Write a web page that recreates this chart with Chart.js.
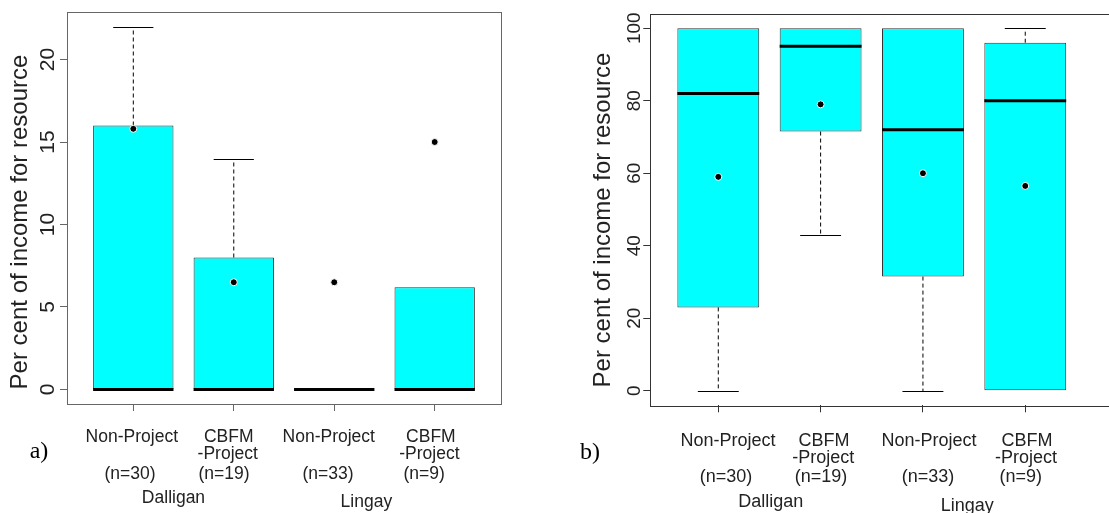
<!DOCTYPE html>
<html>
<head>
<meta charset="utf-8">
<script src="https://cdn.jsdelivr.net/npm/chart.js@4.4.1/dist/chart.umd.min.js"></script>
<style>
  html, body { margin: 0; padding: 0; background: #fff; overflow: hidden; }
  .panel { position: absolute; top: 0; height: 513px; }
  #panelA { left: 0; width: 555px; }
  #panelB { left: 555px; width: 565px; }
</style>
</head>
<body>
<div class="panel" id="panelA"><canvas id="chartA"></canvas></div>
<div class="panel" id="panelB"><canvas id="chartB"></canvas></div>
<script>
// Group labels shared by both panels
const groups = ["Non-Project", "CBFM\n-Project", "Non-Project", "CBFM\n-Project"];
const sampleSizes = ["(n=30)", "(n=19)", "(n=33)", "(n=9)"];
const sites = ["Dalligan", "Lingay"];
const yTitle = "Per cent of income for resource";

// Panel a) box statistics
const aLower = [0, 0, 0, 0];
const aQ1 = [0, 0, 0, 0];
const aMedian = [0, 0, 0, 0];
const aQ3 = [16, 8, 0, 6.2];
const aUpper = [22, 14, 0, 6.2];
const aMean = [15.8, 6.5, 6.5, 15];
const aTicks = [0, 5, 10, 15, 20];

// Panel b) box statistics
const bLower = [0, 43, 0, 0];
const bQ1 = [23, 71.5, 31.5, 0];
const bMedian = [82, 95, 72, 80];
const bQ3 = [100, 100, 100, 96];
const bUpper = [100, 100, 100, 100];
const bMean = [59, 79, 60, 56.5];
const bTicks = [0, 20, 40, 60, 80, 100];

const SANS = '"Liberation Sans", Arial, sans-serif';
const SERIF = '"Liberation Serif", "DejaVu Serif", serif';

// draws whiskers + medians right after the boxes, then frame and all text
function boxPlugin(p) {
  return {
    id: "boxParts",
    afterDatasetDraw(chart, args) {
      if (args.meta.type !== "bar") return;
      const y = chart.scales.y;
      const ctx = chart.ctx;
      ctx.save();
      args.meta.data.forEach((bar, i) => {
        const half = bar.width / 2;
        ctx.strokeStyle = "#000";
        ctx.lineWidth = 1;
        [[p.q3[i], p.upper[i]], [p.q1[i], p.lower[i]]].forEach(([from, to]) => {
          if (from === to) return;
          const y0 = y.getPixelForValue(from);
          const y1 = Math.round(y.getPixelForValue(to)) + 0.5;
          ctx.setLineDash([4, 3]);
          ctx.beginPath();
          ctx.moveTo(bar.x, y0);
          ctx.lineTo(bar.x, y1);
          ctx.stroke();
          ctx.setLineDash([]);
          ctx.beginPath();
          ctx.moveTo(bar.x - half / 2, y1);
          ctx.lineTo(bar.x + half / 2, y1);
          ctx.stroke();
        });
        const ym = y.getPixelForValue(p.median[i]);
        ctx.lineWidth = 3;
        ctx.beginPath();
        ctx.moveTo(bar.x - half, ym);
        ctx.lineTo(bar.x + half, ym);
        ctx.stroke();
      });
      ctx.restore();
    },
    afterDraw(chart) {
      const ctx = chart.ctx;
      const area = chart.chartArea;
      const x = chart.scales.x;
      const y = chart.scales.y;
      ctx.save();
      // plot frame
      ctx.strokeStyle = p.frameColor;
      ctx.lineWidth = 1;
      ctx.strokeRect(Math.round(area.left) + 0.5, Math.round(area.top) + 0.5,
        Math.round(area.right - area.left), Math.round(area.bottom - area.top));

      ctx.fillStyle = "#222";
      // rotated y tick labels
      ctx.font = p.tickSize + "px " + SANS;
      ctx.textAlign = "center";
      ctx.textBaseline = "alphabetic";
      p.ticks.forEach(v => {
        ctx.save();
        ctx.translate(p.tickX, y.getPixelForValue(v));
        ctx.rotate(-Math.PI / 2);
        ctx.fillText(String(v), 0, 0);
        ctx.restore();
      });
      // y title
      ctx.font = p.titleSize + "px " + SANS;
      ctx.save();
      ctx.translate(p.titleX, p.titleY);
      ctx.rotate(-Math.PI / 2);
      ctx.fillText(yTitle, 0, 0);
      ctx.restore();

      // x category labels
      ctx.font = p.labelSize + "px " + SANS;
      groups.forEach((g, i) => {
        const cx = x.getPixelForValue(i + 1);
        const nudge = p.nudge[i];
        const lines = g.split("\n");
        ctx.fillText(lines[0], cx + nudge[0], p.rows[0]);
        if (lines[1]) ctx.fillText(lines[1], cx + nudge[1], p.rows[1]);
        ctx.fillText(sampleSizes[i], cx + nudge[2], p.rows[2]);
      });
      sites.forEach((s, i) => {
        ctx.fillText(s, x.getPixelForValue(p.siteAt[i]), p.siteRows[i]);
      });

      // panel letter
      ctx.font = "24px " + SERIF;
      ctx.fillStyle = "#000";
      ctx.fillText(p.letter, p.letterX, p.letterY);
      ctx.restore();
    }
  };
}

function makePanel(canvasId, p) {
  const boxes = groups.map((g, i) => ({ x: i + 1, y: [p.q1[i], p.q3[i]] }));
  const means = groups.map((g, i) => ({ x: i + 1, y: p.mean[i] }));
  return new Chart(document.getElementById(canvasId), {
    type: "bar",
    data: {
      datasets: [
        {
          data: boxes,
          backgroundColor: "#00FFFF",
          borderColor: "#333",
          borderWidth: 1,
          borderSkipped: false,
          categoryPercentage: 0.8,
          barPercentage: 1,
          order: 1
        },
        {
          type: "scatter",
          data: means,
          pointRadius: 3.5,
          pointBackgroundColor: "#000",
          pointBorderColor: "#fff",
          pointBorderWidth: 1,
          order: 0
        }
      ]
    },
    options: {
      responsive: true,
      maintainAspectRatio: false,
      animation: false,
      layout: { padding: p.padding },
      plugins: { legend: { display: false }, tooltip: { enabled: false } },
      scales: {
        x: {
          type: "linear",
          min: p.xMin,
          max: p.xMax,
          offset: false,
          border: { display: false },
          grid: { offset: false, drawOnChartArea: false, tickLength: 7, tickColor: p.frameColor },
          ticks: { display: false },
          afterBuildTicks: s => { s.ticks = groups.map((g, i) => ({ value: i + 1 })); },
          afterFit: s => { s.height = p.xHeight; }
        },
        y: {
          min: p.yMin,
          max: p.yMax,
          border: { display: false },
          grid: { drawOnChartArea: false, tickLength: 7, tickColor: p.frameColor },
          ticks: { display: false },
          afterBuildTicks: s => { s.ticks = p.ticks.map(v => ({ value: v })); },
          afterFit: s => { s.width = p.yWidth; }
        }
      }
    },
    plugins: [boxPlugin(p)]
  });
}

makePanel("chartA", {
  q1: aQ1, q3: aQ3, median: aMedian, lower: aLower, upper: aUpper, mean: aMean, ticks: aTicks,
  xMin: 0.34, xMax: 4.66, yMin: -0.88, yMax: 22.88,
  padding: { left: 0, top: 12, right: 54, bottom: 0 }, yWidth: 67, xHeight: 109,
  frameColor: "#666", tickSize: 21, tickX: 54, titleSize: 24, titleX: 27, titleY: 222,
  labelSize: 17.5, rows: [442, 459, 479], siteRows: [503, 506.5], siteAt: [1.4, 3.32],
  nudge: [[-1.5, 0, -3.3], [-5, -6, -9.7], [-5.5, 0, -6.3], [-3.8, -5.3, -10.6]],
  letter: "a)", letterX: 39, letterY: 458
});

makePanel("chartB", {
  q1: bQ1, q3: bQ3, median: bMedian, lower: bLower, upper: bUpper, mean: bMean, ticks: bTicks,
  xMin: 0.3355, xMax: 4.877, yMin: -4, yMax: 104,
  padding: { left: 0, top: 13.7, right: 5, bottom: 0 }, yWidth: 95.3, xHeight: 107.7,
  frameColor: "#333", tickSize: 19, tickX: 85, titleSize: 24, titleX: 55, titleY: 220,
  labelSize: 18, rows: [446, 462.5, 482], siteRows: [507, 511], siteAt: [1.512, 3.433],
  nudge: [[9.7, 0, 7.7], [3.4, 2.7, 0.4], [6, 0, 5], [1.7, 0.7, -4.6]],
  letter: "b)", letterX: 35, letterY: 459
});
</script>
</body>
</html>
